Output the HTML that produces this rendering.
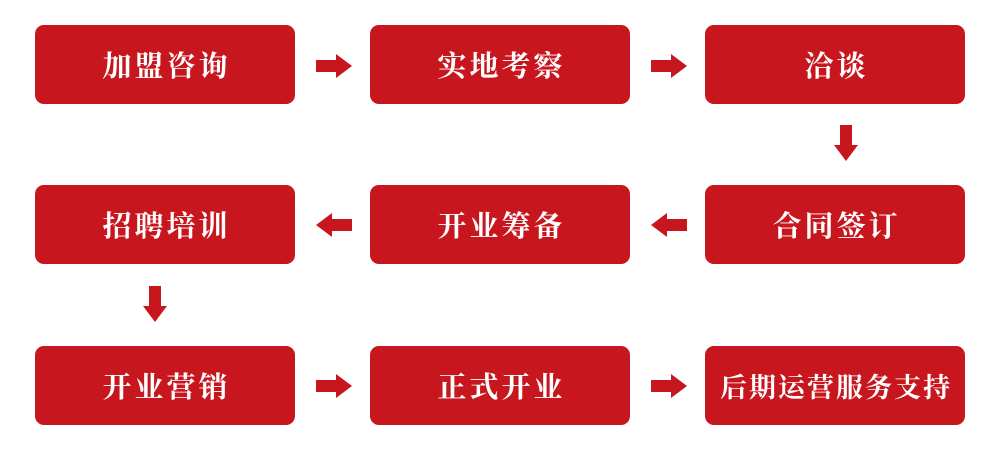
<!DOCTYPE html>
<html><head><meta charset="utf-8"><style>
body{margin:0;width:1000px;height:463px;background:#fff;position:relative;overflow:hidden}
.b{position:absolute;width:260px;height:79px;background:#c8161e;border-radius:9px;color:#fff;font-family:"Liberation Serif","Noto Serif CJK SC",serif;font-weight:bold;font-size:29px;line-height:84px;text-align:center;letter-spacing:3px;text-indent:3px}
svg{position:absolute;left:0;top:0}
</style></head><body>
<div class="b" style="left:35px;top:25px">加盟咨询</div>
<div class="b" style="left:370px;top:25px">实地考察</div>
<div class="b" style="left:705px;top:25px">洽谈</div>
<div class="b" style="left:35px;top:185px">招聘培训</div>
<div class="b" style="left:370px;top:185px">开业筹备</div>
<div class="b" style="left:705px;top:185px">合同签订</div>
<div class="b" style="left:35px;top:346px">开业营销</div>
<div class="b" style="left:370px;top:346px">正式开业</div>
<div class="b" style="left:705px;top:346px;font-size:27px;letter-spacing:2px;text-indent:2px">后期运营服务支持</div>
<svg width="1000" height="463" fill="#c8161e">
<defs>
<path id="r" d="M0,-6 L20,-6 L20,-12 L36,0 L20,12 L20,6 L0,6 Z"/>
</defs>
<use href="#r" transform="translate(316,66)"/>
<use href="#r" transform="translate(651,66)"/>
<use href="#r" transform="translate(352,225) scale(-1,1)"/>
<use href="#r" transform="translate(687,225) scale(-1,1)"/>
<use href="#r" transform="translate(316,386)"/>
<use href="#r" transform="translate(651,386)"/>
<use href="#r" transform="translate(846,125) rotate(90)"/>
<use href="#r" transform="translate(155,286) rotate(90)"/>
</svg>
</body></html>
